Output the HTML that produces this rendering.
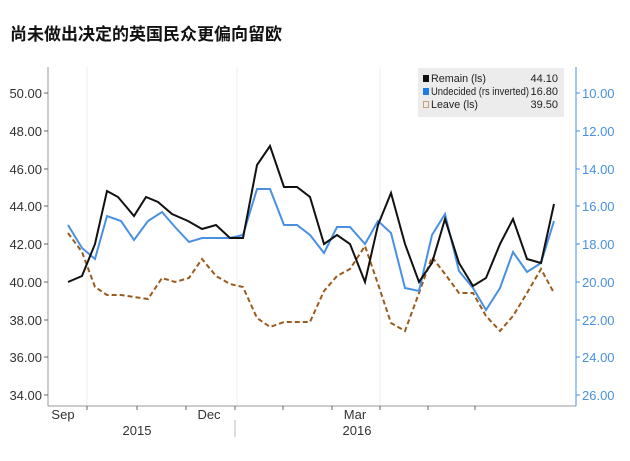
<!DOCTYPE html>
<html><head><meta charset="utf-8"><style>
body{margin:0;background:#fff;width:630px;height:461px;overflow:hidden}
.t{position:absolute;left:10px;top:20px;font:bold 17px "Liberation Sans","Noto Sans CJK SC",sans-serif;color:#111}
</style></head><body>
<div class="t">尚未做出决定的英国民众更偏向留欧</div>
<svg width="630" height="461" style="position:absolute;left:0;top:0" font-family="Liberation Sans, sans-serif">
<g stroke="#eee" stroke-width="1">
<line x1="87" y1="67" x2="87" y2="406"/><line x1="237" y1="67" x2="237" y2="406"/><line x1="380" y1="67" x2="380" y2="406"/>
</g>
<line x1="48" y1="67" x2="48" y2="406" stroke="#999"/>
<line x1="48" y1="406" x2="576" y2="406" stroke="#999"/>
<line x1="576" y1="67" x2="576" y2="406" stroke="#4a90e2"/>
<g stroke="#666"><line x1="44" y1="93" x2="48" y2="93"/><line x1="44" y1="131" x2="48" y2="131"/><line x1="44" y1="169" x2="48" y2="169"/><line x1="44" y1="206" x2="48" y2="206"/><line x1="44" y1="244" x2="48" y2="244"/><line x1="44" y1="282" x2="48" y2="282"/><line x1="44" y1="320" x2="48" y2="320"/><line x1="44" y1="357" x2="48" y2="357"/><line x1="44" y1="395" x2="48" y2="395"/></g>
<g stroke="#4a90e2"><line x1="576" y1="93" x2="580" y2="93"/><line x1="576" y1="131" x2="580" y2="131"/><line x1="576" y1="169" x2="580" y2="169"/><line x1="576" y1="206" x2="580" y2="206"/><line x1="576" y1="244" x2="580" y2="244"/><line x1="576" y1="282" x2="580" y2="282"/><line x1="576" y1="320" x2="580" y2="320"/><line x1="576" y1="357" x2="580" y2="357"/><line x1="576" y1="395" x2="580" y2="395"/></g>
<g font-size="13" fill="#333" text-anchor="end">
<text x="42" y="98">50.00</text><text x="42" y="136">48.00</text><text x="42" y="174">46.00</text><text x="42" y="211">44.00</text><text x="42" y="249">42.00</text><text x="42" y="287">40.00</text><text x="42" y="325">38.00</text><text x="42" y="362">36.00</text><text x="42" y="400">34.00</text>
</g>
<g font-size="13" fill="#4a90e2">
<text x="582" y="98">10.00</text><text x="582" y="136">12.00</text><text x="582" y="174">14.00</text><text x="582" y="211">16.00</text><text x="582" y="249">18.00</text><text x="582" y="287">20.00</text><text x="582" y="325">22.00</text><text x="582" y="362">24.00</text><text x="582" y="400">26.00</text>
</g>
<g stroke="#666"><line x1="87" y1="406" x2="87" y2="410"/><line x1="137" y1="406" x2="137" y2="410"/><line x1="186" y1="406" x2="186" y2="410"/><line x1="235" y1="406" x2="235" y2="410"/><line x1="283" y1="406" x2="283" y2="410"/><line x1="332" y1="406" x2="332" y2="410"/><line x1="380" y1="406" x2="380" y2="410"/><line x1="428" y1="406" x2="428" y2="410"/><line x1="475" y1="406" x2="475" y2="410"/>
<line x1="235" y1="420" x2="235" y2="437" stroke="#bbb"/></g>
<g font-size="13" fill="#333" text-anchor="middle">
<text x="63" y="419">Sep</text><text x="209" y="419">Dec</text><text x="355" y="419">Mar</text>
<text x="137" y="435">2015</text><text x="357" y="435">2016</text>
</g>
<polyline fill="none" stroke="#9a5b1e" stroke-width="2" stroke-dasharray="5,3" points="68,233 82,252 95,287 107,295 121,295 134,297 148,299 162,278 175,282 189,278 202,259 216,276 230,284 243,287 257,318 270,327 284,322 297,322 310,322 324,291 337,276 350,269 365,246 378,284 391,323 405,331 419,293 432,257 445,274 459,293 473,293 486,316 500,331 513,316 527,293 541,269 554,293"/>
<polyline fill="none" stroke="#4a90e2" stroke-width="2" points="68,225 82,248 95,259 107,216 121,221 134,240 148,221 162,212 175,227 189,242 202,238 216,238 230,238 243,235 257,189 270,189 284,225 297,225 310,235 324,253 337,227 350,227 365,244 378,221 391,233 405,288 419,291 432,235 445,214 459,271 473,288 486,310 500,288 513,252 527,272 541,263 554,221"/>
<polyline fill="none" stroke="#111" stroke-width="2" points="68,282 82,276 95,244 107,191 118,197 134,216 146,197 158,202 172,214 188,221 202,229 216,225 230,238 243,238 257,165 270,146 284,187 297,187 310,197 324,244 337,235 350,244 365,282 378,225 391,193 405,244 419,282 432,263 445,219 459,263 473,286 486,278 500,244 513,219 527,259 541,263 554,204"/>
<rect x="418" y="68" width="146" height="49" fill="#ececec"/>
<g font-size="11" fill="#222">
<rect x="423" y="75" width="6" height="7" fill="#111"/><text x="431" y="82" textLength="55" lengthAdjust="spacingAndGlyphs">Remain (ls)</text><text x="558" y="82" text-anchor="end">44.10</text>
<rect x="423" y="88" width="6" height="7" fill="#1e7be0"/><text x="431" y="95" textLength="98" lengthAdjust="spacingAndGlyphs">Undecided (rs inverted)</text><text x="558" y="95" text-anchor="end">16.80</text>
<rect x="423.5" y="101.5" width="5" height="6" fill="none" stroke="#c9a070"/><text x="431" y="108" textLength="47" lengthAdjust="spacingAndGlyphs">Leave (ls)</text><text x="558" y="108" text-anchor="end">39.50</text>
</g>
</svg>
</body></html>
